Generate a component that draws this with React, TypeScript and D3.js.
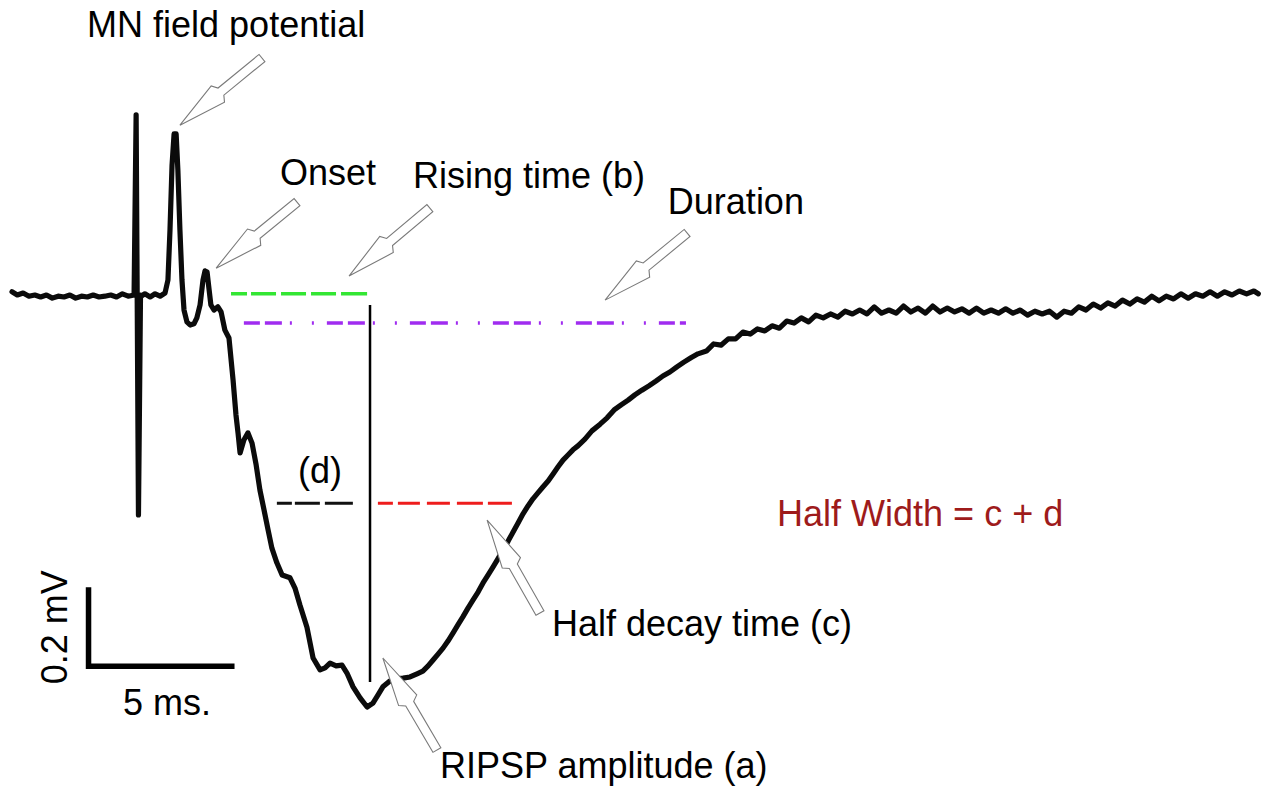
import React from "react";
import * as d3 from "d3";

// ---- Trace data: time (ms, 0 = stimulus) and membrane/field voltage (mV) ----
const traceTime: number[] = [
  -4.28, -4.1, -3.9, -3.7, -3.5, -3.3, -3.1, -2.9, -2.7, -2.5, -2.3, -2.1, -1.9, -1.7, -1.5, -1.3, -1.1, -0.9, -0.7, -0.5, -0.3, -0.1,
  -0.03, 0.05, 0.12,
  0.14, 0.27, 0.45, 0.62, 0.79, 0.96, 1.06, 1.13, 1.2, 1.27, 1.34, 1.4, 1.47, 1.54, 1.61, 1.71, 1.82, 1.95, 2.05, 2.16, 2.26, 2.33, 2.4, 2.47, 2.53, 2.64, 2.77, 2.88,
  3.01, 3.15, 3.29, 3.39, 3.46, 3.53, 3.66, 3.8, 3.94, 4.08, 4.21, 4.35, 4.49, 4.62, 4.79, 4.97, 5.24, 5.41, 5.58, 5.82, 6.03, 6.27, 6.44, 6.61, 6.82, 7.02, 7.19, 7.4, 7.64, 7.88,
  8.08, 8.25, 8.42, 8.66, 8.9, 9.11, 9.35, 9.59, 9.79, 9.97, 10.14, 10.31, 10.48, 10.65, 10.82, 10.99, 11.16, 11.34, 11.51, 11.68, 11.85, 12.02, 12.19, 12.36, 12.53, 12.71, 12.88,
  13.05, 13.22, 13.39, 13.56, 13.73, 13.9, 14.08, 14.25, 14.42, 14.59, 14.76, 14.93, 15.1, 15.34, 15.58, 15.86, 16.1, 16.34, 16.58, 16.82, 17.05, 17.29, 17.53, 17.77, 18.01,
  18.25, 18.49, 18.73, 18.97, 19.21,
  19.5, 19.75, 20.0, 20.25, 20.5, 20.75, 21.0, 21.25, 21.5, 21.75, 22.0, 22.25, 22.5, 22.75, 23.0, 23.25, 23.5, 23.75, 24.0, 24.25, 24.5, 24.75, 25.0, 25.25, 25.5, 25.75,
  26.0, 26.25, 26.5, 26.75, 27.0, 27.25, 27.5, 27.75, 28.0, 28.25, 28.5, 28.75, 29.0, 29.25, 29.5, 29.75, 30.0, 30.25, 30.5, 30.75, 31.0, 31.25, 31.5, 31.75, 32.0, 32.25,
  32.5, 32.75, 33.0, 33.25, 33.5, 33.75, 34.0, 34.25, 34.5, 34.75, 35.0, 35.25, 35.5, 35.75, 36.0, 36.25, 36.5, 36.75, 37.0, 37.25, 37.5, 37.75, 38.0, 38.25, 38.4,
];
const traceVolt: number[] = [
  0.008, 0.0, 0.005, -0.003, 0.0, -0.005, 0.0, -0.008, -0.003, -0.005, 0.0, -0.008, -0.003, -0.005, 0.0, -0.005, -0.003, 0.0, -0.005, 0.003, -0.003, 0.0,
  0.456, -0.557, 0.0,
  -0.003, 0.003, -0.005, 0.003, -0.003, 0.005, 0.038, 0.165, 0.329, 0.408, 0.408, 0.316, 0.165, 0.038, -0.038, -0.068, -0.076, -0.073, -0.058, -0.025, 0.038, 0.061, 0.058, 0.013, -0.025, -0.038, -0.03, -0.043,
  -0.089, -0.109, -0.215, -0.304, -0.349, -0.4, -0.367, -0.349, -0.375, -0.43, -0.494, -0.544, -0.595, -0.641, -0.678, -0.709, -0.716, -0.742, -0.785, -0.841, -0.919, -0.949, -0.944, -0.932, -0.939, -0.937, -0.957, -0.992, -1.02, -1.043,
  -1.033, -1.013, -0.992, -0.977, -0.972, -0.97, -0.967, -0.959, -0.952, -0.939, -0.924, -0.909, -0.894, -0.876, -0.856, -0.835, -0.815, -0.792, -0.772, -0.752, -0.729, -0.709, -0.689, -0.668, -0.646, -0.623, -0.6,
  -0.577, -0.554, -0.534, -0.516, -0.501, -0.486, -0.471, -0.453, -0.435, -0.418, -0.405, -0.392, -0.382, -0.365, -0.344, -0.327, -0.311, -0.291, -0.278, -0.266, -0.253, -0.241, -0.23, -0.218, -0.205,
  -0.195, -0.182, -0.17, -0.159, -0.149,
  -0.142, -0.124, -0.127, -0.111, -0.111, -0.094, -0.099, -0.086, -0.091, -0.078, -0.084, -0.066, -0.071, -0.058, -0.068, -0.051, -0.058, -0.048, -0.056, -0.041, -0.048, -0.038, -0.048, -0.03, -0.046, -0.038,
  -0.046, -0.028, -0.043, -0.033, -0.046, -0.028, -0.043, -0.033, -0.043, -0.035, -0.046, -0.033, -0.046, -0.038, -0.046, -0.035, -0.046, -0.038, -0.051, -0.041, -0.048, -0.041, -0.056, -0.041, -0.046, -0.03,
  -0.038, -0.023, -0.033, -0.02, -0.028, -0.013, -0.023, -0.01, -0.018, -0.003, -0.015, -0.003, -0.01, 0.003, -0.008, 0.003, -0.003, 0.008, -0.003, 0.008, 0.0, 0.01, 0.003, 0.01, 0.003,
];

// ---- Measurement guide lines (t in ms, V in mV) ----
const onsetLine = { t0: 3.22, t1: 7.88, v: 0.003 };
const durationLine = { t0: 3.66, t1: 18.8, v: -0.071 };
const amplitudeLine = { t: 7.98, v0: -0.025, v1: -0.98 };
const halfLineD = { t0: 4.79, t1: 7.4, v: -0.527 };
const halfLineC = { t0: 8.25, t1: 12.84, v: -0.527 };

// ---- Scale bar ----
const scaleBar = { t: -1.66, v: -0.94, lenMs: 5, lenMv: 0.2 };

// ---- Labels ----
const labelTexts: string[] = [
  "MN field potential", "Onset", "Rising time (b)", "Duration", "(d)",
  "Half Width = c + d", "Half decay time (c)", "RIPSP amplitude (a)", "5 ms.",
];
const labelT: number[] = [-1.71, 4.9, 9.45, 18.18, 5.51, 21.92, 14.21, 10.38, -0.48];
const labelV: number[] = [0.653, 0.278, 0.271, 0.205, -0.476, -0.585, -0.863, -1.223, -1.063];
const labelColor: string[] = ["#000", "#000", "#000", "#000", "#000", "#9e1b1b", "#000", "#000", "#000"];
const mvLabel = { text: "0.2 mV", t: -2.4, v: -0.841 };

// ---- Arrows: tip and tail ----
const arrowTipT: number[] = [1.47, 2.71, 7.26, 16.03, 11.99, 8.42];
const arrowTipV: number[] = [0.43, 0.068, 0.048, -0.013, -0.57, -0.919];
const arrowTailT: number[] = [4.28, 5.48, 10.03, 18.84, 13.8, 10.27];
const arrowTailV: number[] = [0.6, 0.235, 0.22, 0.157, -0.805, -1.152];

const W = 1270;
const H = 797;

export default function App() {
  const x = d3.scaleLinear().domain([-4.3, 38.4]).range([11.44, 1258.28]);
  const y = d3.scaleLinear().domain([0.5, -1.1]).range([97.5, 729.5]);

  const pts: [number, number][] = traceTime.map((t, i) => [t, traceVolt[i]]);
  const line = d3
    .line<[number, number]>()
    .x((d) => x(d[0]))
    .y((d) => y(d[1]));

  const arrowPath = (i: number) => {
    const x0 = x(arrowTipT[i]);
    const y0 = y(arrowTipV[i]);
    const x1 = x(arrowTailT[i]);
    const y1 = y(arrowTailV[i]);
    const L = Math.hypot(x1 - x0, y1 - y0);
    const ux = (x1 - x0) / L;
    const uy = (y1 - y0) / L;
    const nx = -uy;
    const ny = ux;
    const local: [number, number][] = [
      [0, 0],
      [49, 10.5],
      [53, 4.6],
      [L, 4.6],
      [L, -4.6],
      [53, -4.6],
      [49, -10.5],
    ];
    return (
      "M" +
      local
        .map(([a, b]) => `${(x0 + ux * a + nx * b).toFixed(2)},${(y0 + uy * a + ny * b).toFixed(2)}`)
        .join("L") +
      "Z"
    );
  };

  const font = "'Liberation Sans', Arial, Helvetica, sans-serif";

  return (
    <svg
      width={W}
      height={H}
      viewBox={`0 0 ${W} ${H}`}
      style={{ position: "absolute", left: 0, top: 0, background: "#fff" }}
    >
      <rect x={0} y={0} width={W} height={H} fill="#fff" />

      {/* guide lines */}
      <line x1={x(onsetLine.t0)} x2={x(onsetLine.t1)} y1={y(onsetLine.v)} y2={y(onsetLine.v)}
        stroke="#33e633" strokeWidth={3.5} strokeDasharray="16 4 25 5 25 5 25 5 27" />
      <line x1={x(durationLine.t0)} x2={x(durationLine.t1)} y1={y(durationLine.v)} y2={y(durationLine.v)}
        stroke="#a02cf0" strokeWidth={3.5} strokeDasharray="16 5 17 8 2 20 2 13" />
      <line x1={x(halfLineD.t0)} x2={x(halfLineD.t1)} y1={y(halfLineD.v)} y2={y(halfLineD.v)}
        stroke="#111" strokeWidth={3} strokeDasharray="15 3 25 5 28" />
      <line x1={x(halfLineC.t0)} x2={x(halfLineC.t1)} y1={y(halfLineC.v)} y2={y(halfLineC.v)}
        stroke="#ee1c1c" strokeWidth={3} strokeDasharray="15 5 22 7 23 7 26 5 24" />
      <line x1={x(amplitudeLine.t)} x2={x(amplitudeLine.t)} y1={y(amplitudeLine.v0)} y2={y(amplitudeLine.v1)}
        stroke="#000" strokeWidth={2.5} />

      {/* trace */}
      <path d={line(pts) || ""} fill="none" stroke="#0b0b0b" strokeWidth={5.2}
        strokeLinejoin="round" strokeLinecap="round" />

      {/* scale bar */}
      <path
        d={`M${x(scaleBar.t)},${y(scaleBar.v + scaleBar.lenMv)}L${x(scaleBar.t)},${y(scaleBar.v)}L${x(scaleBar.t + scaleBar.lenMs)},${y(scaleBar.v)}`}
        fill="none" stroke="#000" strokeWidth={5.5} strokeLinejoin="miter"
      />

      {/* arrows */}
      {arrowTipT.map((_, i) => (
        <path key={"a" + i} d={arrowPath(i)} fill="#fff" stroke="#7a7a7a" strokeWidth={1.1} strokeLinejoin="miter" />
      ))}

      {/* labels */}
      {labelTexts.map((s, i) => (
        <text key={"l" + i} x={x(labelT[i])} y={y(labelV[i])} fontFamily={font} fontSize={36}
          fill={labelColor[i]}>
          {s}
        </text>
      ))}
      <text
        transform={`translate(${x(mvLabel.t)},${y(mvLabel.v)}) rotate(-90)`}
        textAnchor="middle" fontFamily={font} fontSize={36} fill="#000"
      >
        {mvLabel.text}
      </text>
    </svg>
  );
}
